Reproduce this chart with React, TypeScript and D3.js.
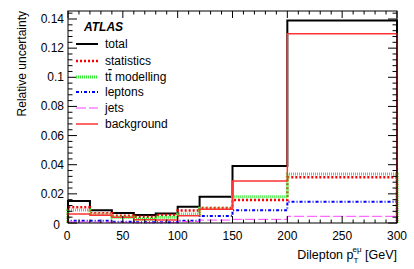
import * as d3 from 'd3'
import { useEffect, useRef } from 'react'

const edges = [0, 20, 40, 60, 80, 100, 120, 150, 200, 300]
const total = [0.0151, 0.0087, 0.0069, 0.0055, 0.0066, 0.0112, 0.018, 0.0391, 0.139]
const statistics = [0.0108, 0.0067, 0.005, 0.0043, 0.0055, 0.0085, 0.0103, 0.0158, 0.0314]
const ttbar = [0.0089, 0.006, 0.0039, 0.0027, 0.0039, 0.0062, 0.0101, 0.018, 0.0336]
const leptons = [0.0016, 0.0016, 0.0009, 0.0005, 0.0006, 0.0016, 0.0048, 0.0087, 0.0146]
const jets = [0.0007, 0.0006, 0.0005, 0.0003, 0.0004, 0.001, 0.002, 0.0025, 0.0046]
const background = [0.0062, 0.0053, 0.0039, 0.0023, 0.0021, 0.005, 0.0094, 0.0288, 0.1299]

const yTicks = [0, 0.02, 0.04, 0.06, 0.08, 0.1, 0.12, 0.14]
const xTicks = [0, 50, 100, 150, 200, 250, 300]

const series = [
  { name: 'total', values: total, color: '#000000', width: 2, dash: null },
  { name: 'statistics', values: statistics, color: '#ff0000', width: 2.5, dash: '2,2' },
  { name: 'tt modelling', values: ttbar, color: '#33ee33', width: 3, dash: '1,1' },
  { name: 'leptons', values: leptons, color: '#0000ff', width: 2, dash: '3,2,1,2' },
  { name: 'jets', values: jets, color: '#ff44ff', width: 1, dash: '10,3' },
  { name: 'background', values: background, color: '#ff3333', width: 1.5, dash: null },
]

export default function App() {
  const svgRef = useRef<SVGSVGElement>(null)

  useEffect(() => {
    const w = 414
    const h = 269
    const m = { left: 68, right: 397, top: 11, bottom: 223 }
    const svg = d3.select(svgRef.current)
    svg.selectAll('*').remove()
    svg.attr('width', w).attr('height', h)
       .style('font-family', '"Liberation Sans", Arial, sans-serif')

    const x = d3.scaleLinear().domain([0, 300]).range([m.left, m.right])
    const y = d3.scaleLinear().domain([0, 0.14]).range([m.bottom, 19])

    // histogram outlines
    const line = d3.line<[number, number]>()
                   .x(d => x(d[0]))
                   .y(d => y(d[1]))
    series.forEach(s => {
      const pts: [number, number][] = [[edges[0], 0]]
      s.values.forEach((v, i) => {
        pts.push([edges[i], v])
        pts.push([edges[i + 1], v])
      })
      pts.push([edges[edges.length - 1], 0])
      const p = svg.append('path')
         .attr('d', line(pts))
         .attr('fill', 'none')
         .attr('stroke', s.color)
         .attr('stroke-width', s.width)
      if (s.dash) p.attr('stroke-dasharray', s.dash)
    })

    // frame
    svg.append('rect')
       .attr('x', m.left).attr('y', m.top)
       .attr('width', m.right - m.left).attr('height', m.bottom - m.top)
       .attr('fill', 'none').attr('stroke', '#000').attr('stroke-width', 1)

    // y ticks
    const yMinor = d3.range(0, 0.1455, 0.004)
    yMinor.forEach(v => {
      const major = Math.abs(v / 0.02 - Math.round(v / 0.02)) < 1e-6
      const len = major ? 9 : 4.5
      svg.append('line').attr('x1', m.left).attr('x2', m.left + len)
         .attr('y1', y(v)).attr('y2', y(v)).attr('stroke', '#000')
      svg.append('line').attr('x1', m.right).attr('x2', m.right - len)
         .attr('y1', y(v)).attr('y2', y(v)).attr('stroke', '#000')
    })
    yTicks.forEach(v => {
      svg.append('text')
         .attr('x', v === 0 ? m.left - 8 : m.left - 4)
         .attr('y', v === 0 ? y(v) + 6 : y(v) + 4)
         .attr('text-anchor', 'end')
         .attr('font-size', 12)
         .text(v === 0 ? '0' : d3.format('.2~f')(v))
    })

    // x ticks
    d3.range(0, 301, 10).forEach(v => {
      const len = v % 50 === 0 ? 7 : 3.5
      svg.append('line').attr('x1', x(v)).attr('x2', x(v))
         .attr('y1', m.bottom).attr('y2', m.bottom - len).attr('stroke', '#000')
      svg.append('line').attr('x1', x(v)).attr('x2', x(v))
         .attr('y1', m.top).attr('y2', m.top + len).attr('stroke', '#000')
    })
    xTicks.forEach(v => {
      svg.append('text')
         .attr('x', v === 0 ? x(v) - 1 : x(v))
         .attr('y', 240)
         .attr('text-anchor', 'middle')
         .attr('font-size', 12)
         .text(v)
    })

    // axis titles
    const xt = svg.append('text')
       .attr('x', m.right).attr('y', 259)
       .attr('text-anchor', 'end')
       .attr('font-size', 12.5)
    xt.append('tspan').text('Dilepton p')
    xt.append('tspan').attr('font-size', 8).attr('dy', 4).text('T')
    xt.append('tspan').attr('font-size', 8).attr('dx', -5).attr('dy', -11).text('eμ')
    xt.append('tspan').attr('dy', 7).text(' [GeV]')

    svg.append('text')
       .attr('transform', `translate(26, ${m.top}) rotate(-90)`)
       .attr('text-anchor', 'end')
       .attr('font-size', 12)
       .text('Relative uncertainty')

    // legend
    svg.append('text')
       .attr('x', 84).attr('y', 31)
       .attr('font-size', 12).attr('font-weight', 'bold').attr('font-style', 'italic')
       .text('ATLAS')
    const rowY = [44, 61, 77, 92, 108, 124]
    series.forEach((s, i) => {
      const ly = rowY[i]
      const l = svg.append('line')
         .attr('x1', 76).attr('x2', 98).attr('y1', ly).attr('y2', ly)
         .attr('stroke', s.color).attr('stroke-width', s.width)
      if (s.dash) l.attr('stroke-dasharray', s.dash)
      const t = svg.append('text')
         .attr('x', 105).attr('y', ly + 4)
         .attr('font-size', 12)
      if (i === 2) {
        t.append('tspan').text('t')
        t.append('tspan').attr('text-decoration', 'overline').text('t')
        t.append('tspan').text(' modelling')
      } else {
        t.text(s.name)
      }
    })
  }, [])

  return (
    <svg ref={svgRef} style={{ position: 'absolute', left: 0, top: 0, background: '#fff' }} />
  )
}
